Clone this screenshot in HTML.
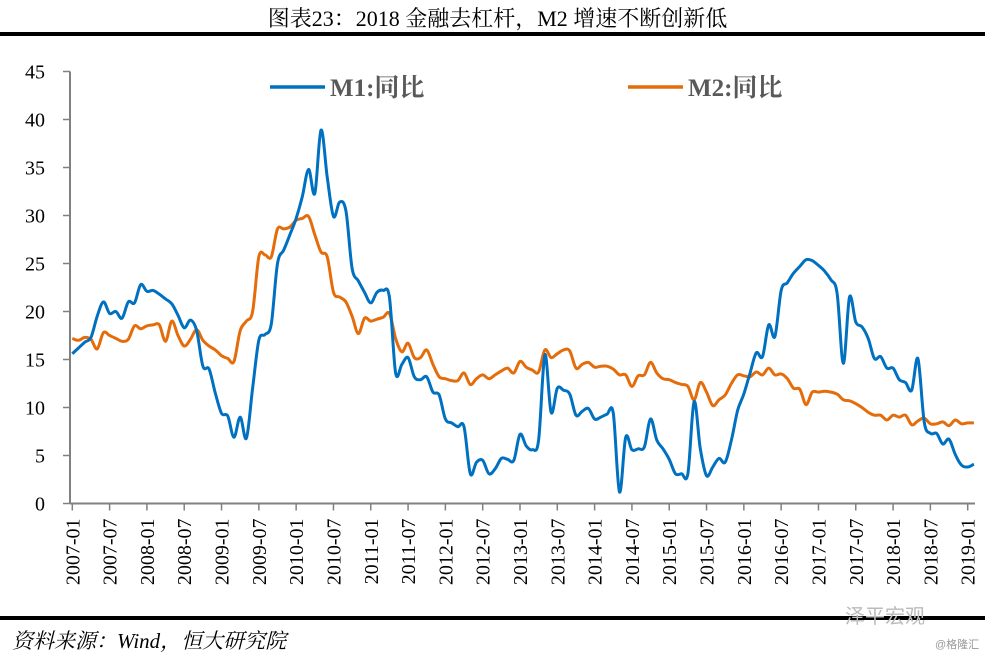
<!DOCTYPE html>
<html><head><meta charset="utf-8"><style>
html,body{margin:0;padding:0;background:#fff;}
body{width:995px;height:658px;overflow:hidden;position:relative;font-family:"Liberation Serif","Noto Serif CJK SC",serif;}
</style></head><body>
<div style="position:absolute;left:0;top:2px;width:995px;text-align:center;font-size:22px;color:#000;">图表23：2018 金融去杠杆，M2 增速不断创新低</div>
<div style="position:absolute;left:0;top:32px;width:985px;height:4px;background:#000;"></div>
<div style="position:absolute;left:0;top:616px;width:985px;height:4px;background:#000;"></div>
<div style="position:absolute;left:12px;top:625px;font-size:21px;font-style:italic;color:#000;font-family:'Liberation Serif','Noto Serif CJK SC',serif;">资料来源：Wind，恒大研究院</div>
<div style="position:absolute;left:845px;top:600px;font-size:20px;color:#bbb;font-family:'Liberation Sans','Noto Sans CJK SC',sans-serif;">泽平宏观</div>
<div style="position:absolute;left:935px;top:636px;font-size:11px;color:#999;font-family:'Liberation Sans','Noto Sans CJK SC',sans-serif;">@格隆汇</div>
<svg id="chart" width="995" height="658" style="position:absolute;left:0;top:0;"></svg>
<script>
const m1Values=[15.6,16.2,16.8,17.3,19.5,21.0,19.8,20.0,19.3,21.0,20.9,22.8,22.1,22.2,21.8,21.3,20.8,19.6,18.3,19.1,18.0,14.3,14.0,11.5,9.4,9.1,6.9,9.0,6.8,12.0,17.0,17.6,18.7,25.0,26.4,28.0,29.7,32.0,34.8,32.3,38.9,34.0,29.9,31.4,30.5,24.5,23.2,22.0,20.9,22.0,22.2,21.5,13.6,14.5,15.2,13.2,12.9,13.2,11.6,11.3,8.8,8.4,8.0,8.0,3.1,4.3,4.5,3.1,3.6,4.7,4.6,4.5,7.2,6.0,5.6,6.6,15.5,9.5,12.0,11.8,11.4,9.2,9.6,9.9,8.8,9.0,9.3,9.4,1.2,6.9,5.6,5.7,5.9,8.8,6.6,5.7,4.6,3.1,3.1,3.1,10.6,5.7,2.9,3.8,4.7,4.3,6.6,9.7,11.4,13.6,15.7,15.3,18.6,17.4,22.2,23.0,24.0,24.7,25.4,25.3,24.8,24.2,23.3,21.9,14.6,21.5,18.9,18.4,17.2,15.1,15.3,14.1,14.1,12.9,12.6,11.8,15.1,8.5,7.3,7.3,6.2,6.7,5.1,4.0,3.8,4.1];
const m2Values=[17.2,17.0,17.3,17.1,16.1,17.8,17.5,17.2,16.9,17.1,18.5,18.2,18.5,18.6,18.6,16.9,19.0,17.5,16.4,17.1,18.1,17.0,16.4,16.0,15.4,15.1,14.8,18.0,19.0,20.0,25.7,25.9,25.7,28.6,28.6,28.8,29.5,29.7,29.9,28.0,26.2,25.7,22.0,21.5,21.0,19.5,17.7,19.3,19.0,19.2,19.4,19.8,17.2,15.8,16.7,15.2,15.2,16.0,14.5,13.2,13.0,12.8,12.8,13.6,12.4,13.0,13.4,13.0,13.4,13.8,14.1,13.6,14.8,14.2,13.9,13.7,16.0,15.2,15.6,16.0,15.9,14.1,14.5,14.7,14.2,14.3,14.3,14.0,13.4,13.4,12.2,13.3,13.4,14.7,13.6,13.0,12.9,12.6,12.4,12.2,10.8,12.6,11.6,10.2,10.8,11.3,12.5,13.4,13.3,13.2,13.7,13.4,14.1,13.4,13.5,13.0,12.0,11.9,10.3,11.6,11.6,11.7,11.6,11.4,10.8,10.7,10.4,10.0,9.5,9.2,9.2,8.7,9.2,9.0,9.2,8.2,8.6,8.9,8.3,8.3,8.5,8.1,8.7,8.3,8.4,8.4];
const yTicks=[0,5,10,15,20,25,30,35,40,45];
const xTickLabels=["2007-01","2007-07","2008-01","2008-07","2009-01","2009-07","2010-01","2010-07","2011-01","2011-07","2012-01","2012-07","2013-01","2013-07","2014-01","2014-07","2015-01","2015-07","2016-01","2016-07","2017-01","2017-07","2018-01","2018-07","2019-01"];
const seriesNames=["M1:同比","M2:同比"];

const NS="http://www.w3.org/2000/svg";
const svg=document.getElementById('chart');
const X0=72.3,MW=6.218,Y0=503.5,UY=9.6;
const xS=m=>X0+m*MW;
const yS=v=>Y0-v*UY;
function mk(t,a){const e=document.createElementNS(NS,t);for(const k in a)e.setAttribute(k,a[k]);svg.appendChild(e);return e;}

let ax=mk('line',{x1:70,y1:yS(45),x2:70,y2:Y0,stroke:'#808080','stroke-width':2});


let bx=mk('line',{x1:70,y1:Y0,x2:975,y2:Y0,stroke:'#808080','stroke-width':2});


yTicks.forEach(v=>{
  let t=mk('line',{x1:63,y1:yS(v),x2:70,y2:yS(v),stroke:'#808080','stroke-width':1.5});
  
  
  let l=mk('text',{x:45,y:yS(v)+7,'text-anchor':'end','font-size':20,'font-family':'Liberation Serif, serif',fill:'#000'});
  l.textContent=v;
  
  
});
xTickLabels.forEach((s,i)=>{
  const x=xS(i*6);
  let t=mk('line',{x1:x,y1:Y0,x2:x,y2:Y0+7,stroke:'#808080','stroke-width':1.5});
  
  
  let l=mk('text',{x:0,y:0,transform:`translate(${x+7},${Y0+15}) rotate(-90)`,'text-anchor':'end','font-size':20,'font-family':'Liberation Serif, serif',fill:'#000'});
  l.textContent=s;
  
  
});
function smooth(vals){
  const p=vals.map((v,i)=>[xS(i),yS(v)]);
  let d=`M${p[0][0]},${p[0][1]}`;
  for(let i=0;i<p.length-1;i++){
    const a=p[Math.max(i-1,0)],b=p[i],c=p[i+1],e=p[Math.min(i+2,p.length-1)];
    const c1=[b[0]+(c[0]-a[0])/6,b[1]+(c[1]-a[1])/6],c2=[c[0]-(e[0]-b[0])/6,c[1]-(e[1]-b[1])/6];
    d+=`C${c1[0].toFixed(1)},${c1[1].toFixed(1)} ${c2[0].toFixed(1)},${c2[1].toFixed(1)} ${c[0].toFixed(1)},${c[1].toFixed(1)}`;
  }
  return d;
}
let p2=mk('path',{d:smooth(m2Values),fill:'none',stroke:'#E46C0A','stroke-width':3,'stroke-linejoin':'round'});


let p1=mk('path',{d:smooth(m1Values),fill:'none',stroke:'#0070C0','stroke-width':3,'stroke-linejoin':'round'});


[[270,'#0070C0'],[628,'#E46C0A']].forEach((c,i)=>{
  let l=mk('line',{x1:c[0],y1:87,x2:c[0]+55,y2:87,stroke:c[1],'stroke-width':3.5});
  
  
  let t=mk('text',{x:c[0]+60,y:96,'font-size':25,'font-weight':'bold','font-family':'Liberation Serif, Noto Serif CJK SC, serif',fill:'#595959'});
  t.textContent=seriesNames[i];
  
  
});
</script>
</body></html>
